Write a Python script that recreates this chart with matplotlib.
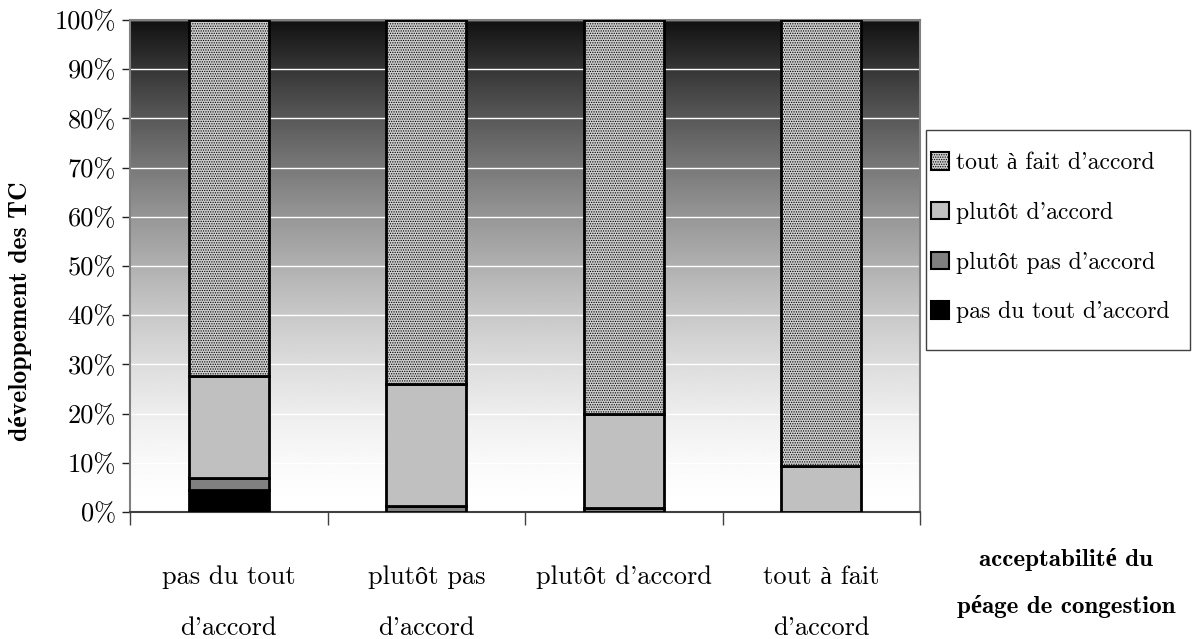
import numpy as np
import matplotlib
matplotlib.use('Agg')
import matplotlib.pyplot as plt
from matplotlib.patches import Patch, Rectangle

# Data (shares in %)
categories = ["pas du tout\n\nd'accord", "plutôt pas\n\nd'accord", "plutôt d'accord", "tout à fait\n\nd'accord"]
series_names = ["pas du tout d'accord", "plutôt pas d'accord", "plutôt d'accord", "tout à fait d'accord"]
pas_du_tout = [4.5, 0.0, 0.0, 0.0]
plutot_pas = [2.4, 1.2, 0.8, 0.0]
plutot_accord = [20.8, 24.8, 19.2, 9.3]
tout_a_fait = [72.3, 74.0, 80.0, 90.7]

plt.rcParams['font.family'] = ['cmr10', 'Liberation Serif']
plt.rcParams['axes.formatter.use_mathtext'] = True
plt.rcParams['hatch.color'] = '#8c8c8c'
plt.rcParams['hatch.linewidth'] = 0.6
bold = ['cmb10', 'Liberation Serif']

fig = plt.figure(figsize=(11.97, 6.39), dpi=100)
ax = fig.add_axes([130 / 1197, 1 - 512 / 639, (920 - 130) / 1197, (512 - 20) / 639])

x = np.arange(len(categories))
xmin, xmax = -0.5, 3.5
ax.set_xlim(xmin, xmax)
ax.set_ylim(0, 100)

# background gradient: near-black at the top, fading quickly then flattening to white
t = np.linspace(0, 1, 256)  # 0 = top
shade = 0.07 + 0.93 * (1 - (1 - t) ** 1.6)
ax.imshow(shade.reshape(-1, 1), cmap='gray', extent=[xmin, xmax, 0, 100], origin='upper',
          aspect='auto', zorder=0, vmin=0, vmax=1)

for yv in range(10, 101, 10):
    ax.axhline(yv, color='white', lw=1, zorder=1)

w = 0.406
styles = [dict(color='#000000'), dict(color='#808080'), dict(color='#c0c0c0'),
          dict(color='#cfcfcf', hatch='.......')]
bottom = np.zeros(len(categories))
handles = []
for vals, name, st in zip([pas_du_tout, plutot_pas, plutot_accord, tout_a_fait], series_names, styles):
    vals = np.array(vals)
    mask = vals > 0
    ax.bar(x[mask], vals[mask], w, bottom=bottom[mask], facecolor=st['color'], hatch=st.get('hatch'),
           edgecolor='black', linewidth=2, zorder=3)
    handles.append(Patch(facecolor=st['color'], hatch=st.get('hatch'), edgecolor='black', linewidth=1.5, label=name))
    bottom += vals

ax.set_yticks(range(0, 101, 10))
ax.set_yticklabels([f"{v}%" for v in range(0, 101, 10)], fontsize=19)
ax.tick_params(axis='y', length=6, width=1, direction='out', color='#202020', pad=4)

ax.set_xticks(np.arange(-0.5, 3.6, 1))
ax.set_xticklabels([])
ax.tick_params(axis='x', which='major', length=9, width=1, color='#404040')
ax.set_xticks(x, minor=True)
ax.set_xticklabels(categories, minor=True, fontsize=19, linespacing=1.09)
ax.tick_params(axis='x', which='minor', length=0, pad=38.5)

for s in ['left', 'right', 'top']:
    ax.spines[s].set_color('#808080')
    ax.spines[s].set_linewidth(1.5)
ax.spines['bottom'].set_color('#404040')
ax.spines['bottom'].set_linewidth(1.5)

fig.text(21 / 1197, 1 - 311 / 639, "développement des TC", family=bold, fontweight='bold',
         fontsize=18.5, rotation=90, ha='center', va='center')
fig.text(1066 / 1197, 1 - 583 / 639, "acceptabilité du\n\npéage de congestion", family=bold,
         fontweight='bold', fontsize=18, ha='center', va='center', linespacing=1.06)

# legend box drawn separately so its padding can match the original
fig.add_artist(Rectangle((926 / 1197, 1 - 350 / 639), 264 / 1197, 220 / 639, transform=fig.transFigure,
                         facecolor='white', edgecolor='#404040', linewidth=1.0, zorder=1))
leg = fig.legend(handles=handles[::-1], loc='upper left', bbox_to_anchor=(931 / 1197, 1 - 152 / 639),
                 fontsize=17, frameon=False, handlelength=0.75, handleheight=0.75, handletextpad=0.3,
                 labelspacing=1.17, borderpad=0, borderaxespad=0)
leg.set_zorder(2)

fig.savefig('out.png', dpi=100)
